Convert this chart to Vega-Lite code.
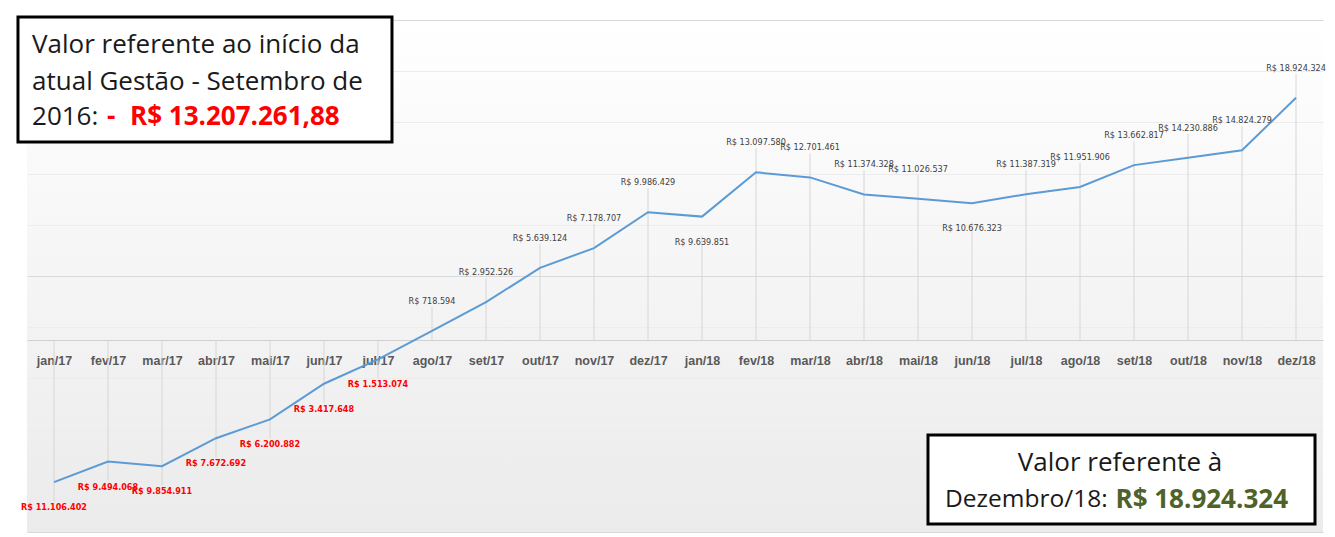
{
  "$schema": "https://vega.github.io/schema/vega-lite/v6.json",
  "width": 1296,
  "height": 512,
  "autosize": {"type": "none"},
  "padding": {"left": 27, "top": 20, "right": 12, "bottom": 5},
  "background": "#ffffff",
  "config": {
    "view": {
      "stroke": null,
      "fill": {"gradient": "linear", "x1": 0, "y1": 0, "x2": 0, "y2": 1,
        "stops": [{"offset": 0, "color": "#ffffff"}, {"offset": 1, "color": "#ebebeb"}]}
    }
  },
  "layer": [
    {
      "data": {"values": [
        {"i": 1, "m": "jan/17", "v": -11106402},
        {"i": 2, "m": "fev/17", "v": -9494068},
        {"i": 3, "m": "mar/17", "v": -9854911},
        {"i": 4, "m": "abr/17", "v": -7672692},
        {"i": 5, "m": "mai/17", "v": -6200882},
        {"i": 6, "m": "jun/17", "v": -3417648},
        {"i": 7, "m": "jul/17", "v": -1513074},
        {"i": 8, "m": "ago/17", "v": 718594},
        {"i": 9, "m": "set/17", "v": 2952526},
        {"i": 10, "m": "out/17", "v": 5639124},
        {"i": 11, "m": "nov/17", "v": 7178707},
        {"i": 12, "m": "dez/17", "v": 9986429},
        {"i": 13, "m": "jan/18", "v": 9639851},
        {"i": 14, "m": "fev/18", "v": 13097580},
        {"i": 15, "m": "mar/18", "v": 12701461},
        {"i": 16, "m": "abr/18", "v": 11374328},
        {"i": 17, "m": "mai/18", "v": 11026537},
        {"i": 18, "m": "jun/18", "v": 10676323},
        {"i": 19, "m": "jul/18", "v": 11387319},
        {"i": 20, "m": "ago/18", "v": 11951906},
        {"i": 21, "m": "set/18", "v": 13662817},
        {"i": 22, "m": "out/18", "v": 14230886},
        {"i": 23, "m": "nov/18", "v": 14824279},
        {"i": 24, "m": "dez/18", "v": 18924324}
      ]},
      "transform": [
        {"window": [{"op": "lag", "field": "v", "as": "prev"}, {"op": "lead", "field": "v", "as": "next"}],
         "sort": [{"field": "i", "order": "ascending"}], "frame": [null, null]},
        {"calculate": "datum.v < 0 || (isValid(datum.prev) && isValid(datum.next) && datum.v < datum.prev && datum.v < datum.next)", "as": "below"},
        {"calculate": "'R$ ' + replace(format(abs(datum.v), ',.0f'), regexp(',', 'g'), '.')", "as": "label"}
      ],
      "encoding": {
        "x": {"field": "i", "type": "quantitative",
          "scale": {"domain": [0.5, 24.5], "nice": false, "zero": false},
          "axis": {
            "values": [1,2,3,4,5,6,7,8,9,10,11,12,13,14,15,16,17,18,19,20,21,22,23,24],
            "labelExpr": "['jan/17','fev/17','mar/17','abr/17','mai/17','jun/17','jul/17','ago/17','set/17','out/17','nov/17','dez/17','jan/18','fev/18','mar/18','abr/18','mai/18','jun/18','jul/18','ago/18','set/18','out/18','nov/18','dez/18'][datum.value - 1]",
            "offset": -192, "grid": false, "ticks": false,
            "domainColor": "#d0d0d0", "domainWidth": 1,
            "labelColor": "#595959", "labelFont": "Liberation Sans", "labelFontSize": 12.5, "labelFontWeight": "bold",
            "labelPadding": 14, "labelFlush": false, "labelOverlap": false, "title": null
          }},
        "y": {"field": "v", "type": "quantitative",
          "scale": {"domain": [-15000000, 25000000], "nice": false, "zero": false},
          "axis": {
            "values": [-15000000,-14000000,-13000000,-12000000,-11000000,-10000000,-9000000,-8000000,-7000000,-6000000,-5000000,-4000000,-3000000,-2000000,-1000000,0,1000000,2000000,3000000,4000000,5000000,6000000,7000000,8000000,9000000,10000000,11000000,12000000,13000000,14000000,15000000,16000000,17000000,18000000,19000000,20000000,21000000,22000000,23000000,24000000,25000000],
            "grid": true,
            "gridColor": {"condition": {"test": "datum.value % 5000000 === 0", "value": "#d9d9d9"}, "value": "#ececec"},
            "domain": false, "ticks": false, "labels": false, "title": null
          }}
      },
      "layer": [
        {"transform": [{"filter": "!datum.below"}],
         "mark": {"type": "rule", "color": "#d6d6d6", "strokeWidth": 1, "yOffset": -24},
         "encoding": {"y2": {"datum": 0}}},
        {"transform": [{"filter": "datum.below"}],
         "mark": {"type": "rule", "color": "#d6d6d6", "strokeWidth": 1, "yOffset": 19},
         "encoding": {"y2": {"datum": 0}}},
        {"mark": {"type": "line", "color": "#5b9bd5", "strokeWidth": 2}},
        {"transform": [{"filter": "!datum.below"}],
         "mark": {"type": "text", "yOffset": -30, "baseline": "middle", "align": "center", "font": "DejaVu Sans Condensed, Liberation Sans, sans-serif", "fontSize": 9, "color": "#404040"},
         "encoding": {"text": {"field": "label"}}},
        {"transform": [{"filter": "datum.below && datum.v >= 0"}],
         "mark": {"type": "text", "yOffset": 25, "baseline": "middle", "align": "center", "font": "DejaVu Sans Condensed, Liberation Sans, sans-serif", "fontSize": 9, "color": "#404040"},
         "encoding": {"text": {"field": "label"}}},
        {"transform": [{"filter": "datum.v < 0"}],
         "mark": {"type": "text", "yOffset": 25, "baseline": "middle", "align": "center", "font": "DejaVu Sans Condensed, Liberation Sans, sans-serif", "fontSize": 9, "fontWeight": "bold", "color": "#ff0000"},
         "encoding": {"text": {"field": "label"}}}
      ]
    },
    {
      "data": {"values": [{}]},
      "mark": {"type": "rect", "fill": "#ffffff", "stroke": "#000000", "strokeWidth": 3},
      "encoding": {
        "x": {"datum": 0.333, "type": "quantitative"},
        "x2": {"datum": 7.259},
        "y": {"datum": 25234000, "type": "quantitative"},
        "y2": {"datum": 15469000}
      }
    },
    {
      "data": {"values": [{}]},
      "mark": {"type": "rect", "fill": "#ffffff", "stroke": "#000000", "strokeWidth": 3},
      "encoding": {
        "x": {"datum": 17.185, "type": "quantitative"},
        "x2": {"datum": 24.352},
        "y": {"datum": -7422000, "type": "quantitative"},
        "y2": {"datum": -14375000}
      }
    },
    {
      "data": {"values": [{"t": "Valor referente ao início da", "row": 23047000}, {"t": "atual Gestão - Setembro de", "row": 20156000}, {"t": "2016:", "row": 17422000}]},
      "mark": {"type": "text", "align": "left", "baseline": "middle", "font": "Open Sans", "fontSize": 26, "color": "#1a1a1a"},
      "encoding": {
        "x": {"datum": 0.593, "type": "quantitative"},
        "y": {"field": "row", "type": "quantitative"},
        "text": {"field": "t"}
      }
    },
    {
      "data": {"values": [{}]},
      "mark": {"type": "text", "align": "left", "baseline": "middle", "font": "Open Sans", "fontSize": 26, "fontWeight": "bold", "color": "#ff0000"},
      "encoding": {
        "x": {"datum": 1.981, "type": "quantitative"},
        "y": {"datum": 17422000, "type": "quantitative"},
        "text": {"value": "-"}
      }
    },
    {
      "data": {"values": [{}]},
      "mark": {"type": "text", "align": "left", "baseline": "middle", "font": "Open Sans", "fontSize": 26, "fontWeight": "bold", "color": "#ff0000"},
      "encoding": {
        "x": {"datum": 2.407, "type": "quantitative"},
        "y": {"datum": 17422000, "type": "quantitative"},
        "text": {"value": "R$ 13.207.261,88"}
      }
    },
    {
      "data": {"values": [{}]},
      "mark": {"type": "text", "align": "center", "baseline": "middle", "font": "Open Sans", "fontSize": 26, "color": "#1a1a1a"},
      "encoding": {
        "x": {"datum": 20.741, "type": "quantitative"},
        "y": {"datum": -9609000, "type": "quantitative"},
        "text": {"value": "Valor referente à"}
      }
    },
    {
      "data": {"values": [{}]},
      "mark": {"type": "text", "align": "left", "baseline": "middle", "font": "Open Sans", "fontSize": 24.5, "color": "#1a1a1a"},
      "encoding": {
        "x": {"datum": 17.5, "type": "quantitative"},
        "y": {"datum": -12500000, "type": "quantitative"},
        "text": {"value": "Dezembro/18:"}
      }
    },
    {
      "data": {"values": [{}]},
      "mark": {"type": "text", "align": "right", "baseline": "middle", "font": "Open Sans", "fontSize": 26, "fontWeight": "bold", "color": "#4f6228"},
      "encoding": {
        "x": {"datum": 23.852, "type": "quantitative"},
        "y": {"datum": -12500000, "type": "quantitative"},
        "text": {"value": "R$ 18.924.324"}
      }
    }
  ]
}
